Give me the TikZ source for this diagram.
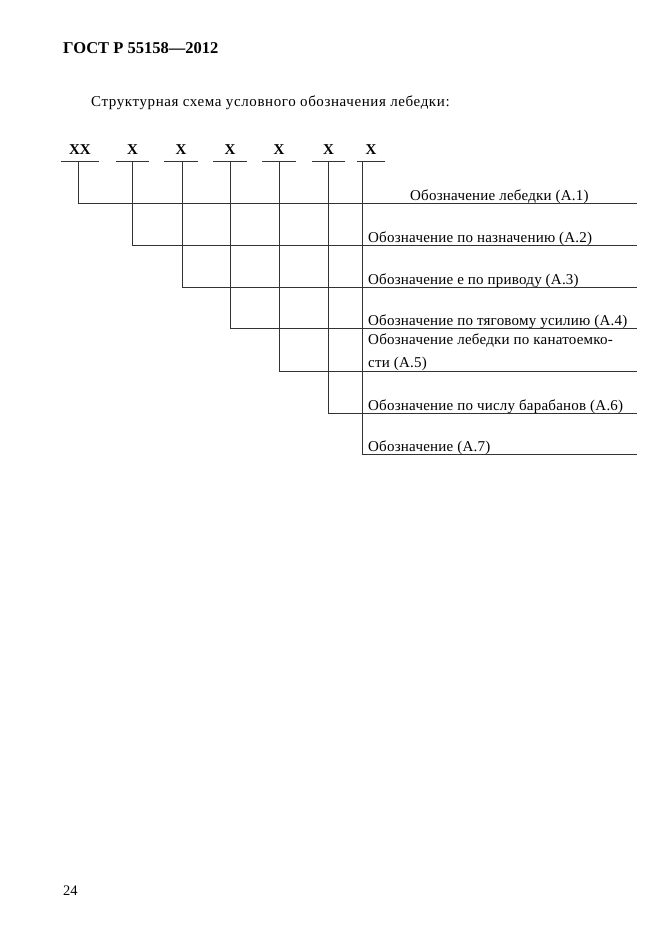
\documentclass[tikz,border=0pt]{standalone}
\usepackage{fontspec}
\setmainfont{Liberation Serif}
\newfontfamily\wideserif[LetterSpace=4]{Liberation Serif}
\newfontfamily\descserif[LetterSpace=1.5]{Liberation Serif}
\usetikzlibrary{positioning}

\begin{document}
\begin{tikzpicture}[
    x=1pt, y=-1pt,
    sym/.style={anchor=base, inner xsep=0pt, inner ysep=7pt, minimum width=33pt, font=\fontsize{15}{17}\bfseries},
    desc/.style={anchor=base west, inner sep=0pt, font=\descserif\fontsize{15}{20}\selectfont},
    txt/.style={anchor=base west, inner sep=0pt},
    rule/.style={draw, line width=0.7pt, black!80}
]
\useasboundingbox (0,0) rectangle (661,935);

% Header and caption
\node[txt, font=\fontsize{16.5}{19}\bfseries] (title) at (63,53) {ГОСТ Р 55158—2012};
\node[txt, font=\wideserif\fontsize{15}{17}\selectfont] (caption) at (91,106) {Структурная схема условного обозначения лебедки:};

% Code positions
\node[sym, minimum width=38pt] (s1) at (80,154) {XX};
\node[sym] (s2) at (132.5,154) {X};
\node[sym] (s3) at (181,154) {X};
\node[sym] (s4) at (230,154) {X};
\node[sym] (s5) at (279,154) {X};
\node[sym] (s6) at (328.5,154) {X};
\node[sym, minimum width=28pt] (s7) at (371,154) {X};

% Underlines
\draw[rule] (s1.south west) -- (s1.south east);
\draw[rule] (s2.south west) -- (s2.south east);
\draw[rule] (s3.south west) -- (s3.south east);
\draw[rule] (s4.south west) -- (s4.south east);
\draw[rule] (s5.south west) -- (s5.south east);
\draw[rule] (s6.south west) -- (s6.south east);
\draw[rule] (s7.south west) -- (s7.south east);

% Line ends at the right margin
\coordinate (e1) at (637,203);
\coordinate (e2) at (637,245);
\coordinate (e3) at (637,287);
\coordinate (e4) at (637,328);
\coordinate (e5) at (637,371);
\coordinate (e6) at (637,413);
\coordinate (e7) at (637,454);

% Descriptions
\node[desc] (d1) at (410,200) {Обозначение лебедки (А.1)};
\node[desc] (d2) at (368,242) {Обозначение по назначению (А.2)};
\node[desc] (d3) at (368,284) {Обозначение е по приводу (А.3)};
\node[desc] (d4) at (368,325) {Обозначение по тяговому усилию (А.4)};
\node[desc] (d5) at (368,344) {\begin{tabular}[t]{@{}l@{}}Обозначение лебедки по канатоемко-\\[3pt]сти (А.5)\end{tabular}};
\node[desc] (d6) at (368,410) {Обозначение по числу барабанов (А.6)};
\node[desc] (d7) at (368,451) {Обозначение (А.7)};

% Leaders
\draw[rule] ([xshift=-2pt]s1.south) |- (e1);
\draw[rule] (s2.south) |- (e2);
\draw[rule] ([xshift=1pt]s3.south) |- (e3);
\draw[rule] (s4.south) |- (e4);
\draw[rule] (s5.south) |- (e5);
\draw[rule] (s6.south) |- (e6);
\draw[rule] ([xshift=-9pt]s7.south) |- (e7);

% Page number
\node[txt, font=\fontsize{14.5}{17}\selectfont] (page) at (63,895) {24};

\end{tikzpicture}
\end{document}
